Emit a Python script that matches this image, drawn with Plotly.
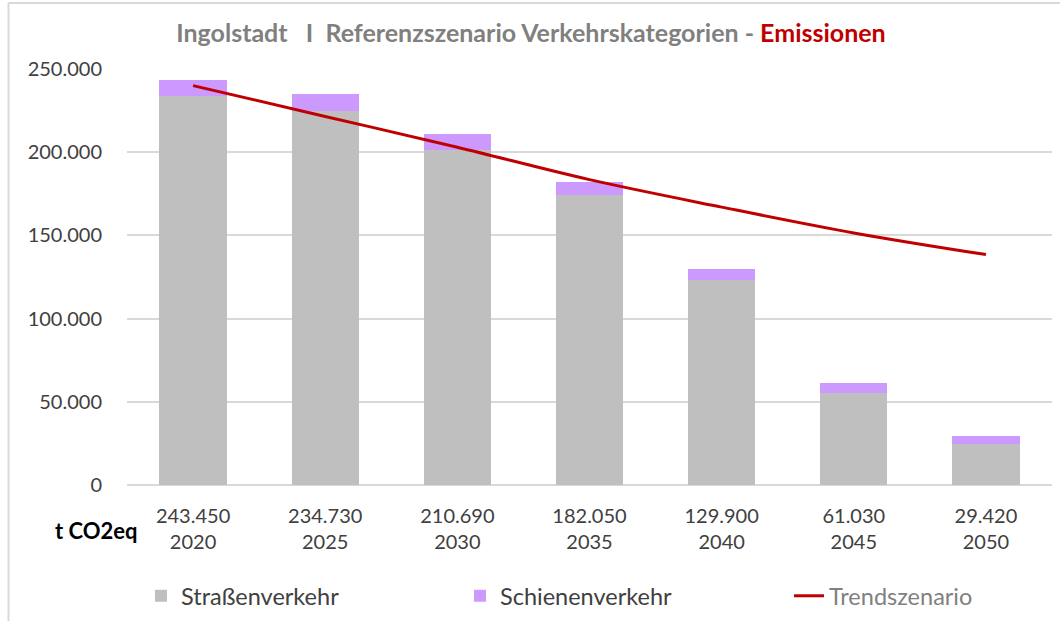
import plotly.graph_objects as go

years = ["2020", "2025", "2030", "2035", "2040", "2045", "2050"]
total_labels = ["243.450", "234.730", "210.690", "182.050", "129.900", "61.030", "29.420"]
strassenverkehr = [234000, 225000, 201500, 174000, 123000, 55000, 24500]
schienenverkehr = [9450, 9730, 9190, 8050, 6900, 6030, 4920]
trendszenario = [240000, 221500, 203000, 183500, 167000, 151500, 138500]

FONT = "Lato, 'Open Sans', sans-serif"
TXT = "#404040"

fig = go.Figure()
fig.add_trace(go.Bar(x=years, y=strassenverkehr, name="Straßenverkehr", legend="legend",
                     marker=dict(color="#bfbfbf", line=dict(width=0))))
fig.add_trace(go.Bar(x=years, y=schienenverkehr, name="Schienenverkehr", legend="legend2",
                     marker=dict(color="#cc99ff", line=dict(width=0))))
fig.add_trace(go.Scatter(x=years, y=trendszenario, mode="lines", legend="legend3",
                         name="<span style='color:#808080'>Trendszenario</span>",
                         line=dict(color="#c00000", width=3, shape="spline")))

def leg(text_start):
    return dict(
        orientation="h", xref="container", yref="container",
        x=(text_start - 41) / 1060, xanchor="left", y=1 - 596 / 621, yanchor="middle",
        font=dict(size=23.5, color=TXT), bgcolor="rgba(0,0,0,0)",
    )

fig.update_layout(
    width=1060, height=621,
    barmode="stack", bargap=0.49,
    separators=",.",
    paper_bgcolor="white", plot_bgcolor="white",
    font=dict(family=FONT, size=20, color=TXT),
    margin=dict(l=127, r=8, t=69, b=136, autoexpand=False),
    title=dict(
        text="<b>Ingolstadt\u00a0\u00a0\u00a0I\u00a0\u00a0Referenzszenario Verkehrskategorien - "
             "<span style='color:#c00000'>Emissionen</span></b>",
        font=dict(family=FONT, size=25, color="#808080"),
        x=531 / 1060, xanchor="center", xref="container",
        y=1 - 33 / 621, yanchor="middle", yref="container",
    ),
    xaxis=dict(
        type="category",
        tickmode="array", tickvals=years,
        ticktext=[f"{t}<br>{y}" for t, y in zip(total_labels, years)],
        showgrid=False, showline=False, zeroline=False,
        ticks="", ticklabelstandoff=17,
        tickfont=dict(size=20, color=TXT),
    ),
    yaxis=dict(
        range=[0, 250000], tickvals=[0, 50000, 100000, 150000, 200000, 250000],
        tickformat=",d",
        showgrid=True, gridcolor="#d9d9d9", gridwidth=1.5,
        zeroline=True, zerolinecolor="#d9d9d9", zerolinewidth=1.5,
        showline=False, ticks="", ticklabelstandoff=24,
        tickfont=dict(size=20, color=TXT),
    ),
    legend=leg(182),
    legend2=leg(501),
    legend3=leg(830),
    showlegend=True,
)

fig.add_annotation(
    text="<b>t CO2eq</b>", xref="paper", yref="paper",
    x=(140 - 127) / 925, y=(485 - 530) / 416,
    xanchor="right", yanchor="middle", showarrow=False,
    font=dict(family=FONT, size=22, color="#000000"),
)

# chart-area frame (left and top edges visible in reference)
fig.add_shape(type="line", xref="paper", yref="paper",
              x0=(8.5 - 127) / 925, x1=(8.5 - 127) / 925,
              y0=(485 - 621) / 416, y1=(485 - 3) / 416,
              line=dict(color="#d9d9d9", width=2))
fig.add_shape(type="line", xref="paper", yref="paper",
              x0=(8.5 - 127) / 925, x1=(1060 - 127) / 925,
              y0=(485 - 3) / 416, y1=(485 - 3) / 416,
              line=dict(color="#d9d9d9", width=2))

fig.write_html("out.html", config={"displayModeBar": False},
               post_script="document.body.style.margin='0px';")
